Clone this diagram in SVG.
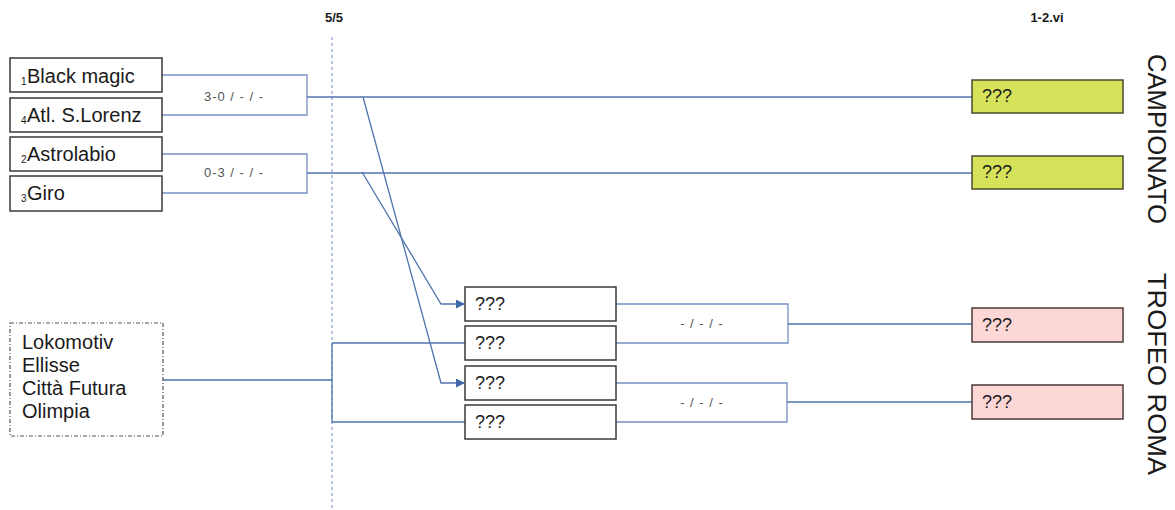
<svg xmlns="http://www.w3.org/2000/svg" width="1175" height="510" viewBox="0 0 1175 510">
<style>
text{font-family:"Liberation Sans",Arial,sans-serif;fill:#1a1a1a}
.box{fill:#fff;stroke:#3a3a3a;stroke-width:1.5}
.green{fill:#d6e35a;stroke:#4a4a30;stroke-width:1.5}
.pink{fill:#fdd6d6;stroke:#4a3a3a;stroke-width:1.5}
.ln{fill:none;stroke:#4f74ad;stroke-width:1.3}
.br{fill:none;stroke:#7590c4;stroke-width:1.3}
.team{font-size:20px}
.sub{font-size:10px}
.q{font-size:18px}
.score{font-size:13px;fill:#555;letter-spacing:1px}
.hdr{font-size:13px;font-weight:bold}
.side{font-size:25px}
</style>
<defs>
<marker id="arr" viewBox="0 0 10 10" refX="9" refY="5" markerWidth="9" markerHeight="9" orient="auto" markerUnits="userSpaceOnUse">
<path d="M0,0 L10,5 L0,10 z" fill="#3f68a8"/>
</marker>
</defs>
<rect width="1175" height="510" fill="#fff"/>

<g id="headers">
<text class="hdr" x="334" y="22" text-anchor="middle">5/5</text>
<text class="hdr" x="1047" y="22" text-anchor="middle">1-2.vi</text>
<text class="side" transform="translate(1148,54) rotate(90)" textLength="170" lengthAdjust="spacingAndGlyphs">CAMPIONATO</text>
<text class="side" transform="translate(1148,273) rotate(90)" textLength="202" lengthAdjust="spacingAndGlyphs">TROFEO ROMA</text>
</g>

<line id="date-line" x1="332" y1="37" x2="332" y2="510" stroke="#8ea6cf" stroke-width="1.3" stroke-dasharray="3,3"/>

<g id="connectors">
<path class="br" d="M162,75 H307 V115 H162"/>
<path class="ln" d="M307,97 H972"/>
<path class="br" d="M162,154 H307 V193 H162"/>
<path class="ln" d="M307,173 H972"/>
<path class="br" d="M616,304 H788 V343 H616"/>
<path class="ln" d="M788,324 H972"/>
<path class="br" d="M616,383 H787 V422 H616"/>
<path class="ln" d="M787,402 H972"/>
<path class="ln" d="M163,380 H332 M332,343 V422 M332,343 H465 M332,422 H465"/>
<path class="ln" d="M363,97 L441,383 H464" marker-end="url(#arr)"/>
<path class="ln" d="M362,172 L441,304 H464" marker-end="url(#arr)"/>
<text class="score" x="234" y="101" text-anchor="middle">3-0 / - / -</text>
<text class="score" x="234" y="177" text-anchor="middle">0-3 / - / -</text>
<text class="score" x="702" y="328" text-anchor="middle">- / - / -</text>
<text class="score" x="702" y="407" text-anchor="middle">- / - / -</text>
</g>

<g id="team-black-magic">
<rect class="box" x="10" y="58" width="152" height="34"/>
<text x="21" y="85"><tspan class="sub">1</tspan><tspan class="team" x="27" y="83">Black magic</tspan></text>
</g>
<g id="team-atl-slorenz">
<rect class="box" x="10" y="98" width="152" height="34"/>
<text x="21" y="124"><tspan class="sub">4</tspan><tspan class="team" x="27" y="122">Atl. S.Lorenz</tspan></text>
</g>
<g id="team-astrolabio">
<rect class="box" x="10" y="137" width="152" height="34"/>
<text x="21" y="163"><tspan class="sub">2</tspan><tspan class="team" x="27" y="161">Astrolabio</tspan></text>
</g>
<g id="team-giro">
<rect class="box" x="10" y="176" width="152" height="35"/>
<text x="21" y="202"><tspan class="sub">3</tspan><tspan class="team" x="27" y="200">Giro</tspan></text>
</g>

<g id="group-others">
<rect x="10" y="323" width="153" height="113" fill="#fff" stroke="#555" stroke-width="1.2" stroke-dasharray="4,2,1,2"/>
<text class="team" x="22" y="349">Lokomotiv</text>
<text class="team" x="22" y="372">Ellisse</text>
<text class="team" x="22" y="395">Città Futura</text>
<text class="team" x="22" y="418">Olimpia</text>
</g>

<g id="semi-a"><rect class="box" x="465" y="287" width="151" height="34"/><text class="q" x="475" y="310">???</text></g>
<g id="semi-b"><rect class="box" x="465" y="326" width="151" height="34"/><text class="q" x="475" y="349">???</text></g>
<g id="semi-c"><rect class="box" x="465" y="366" width="151" height="34"/><text class="q" x="475" y="389">???</text></g>
<g id="semi-d"><rect class="box" x="465" y="405" width="151" height="34"/><text class="q" x="475" y="428">???</text></g>

<g id="camp-1"><rect class="green" x="972" y="80" width="151" height="33"/><text class="q" x="982" y="102">???</text></g>
<g id="camp-2"><rect class="green" x="972" y="156" width="151" height="33"/><text class="q" x="982" y="178">???</text></g>
<g id="trofeo-1"><rect class="pink" x="972" y="308" width="151" height="34"/><text class="q" x="982" y="331">???</text></g>
<g id="trofeo-2"><rect class="pink" x="972" y="385" width="151" height="34"/><text class="q" x="982" y="408">???</text></g>
</svg>
